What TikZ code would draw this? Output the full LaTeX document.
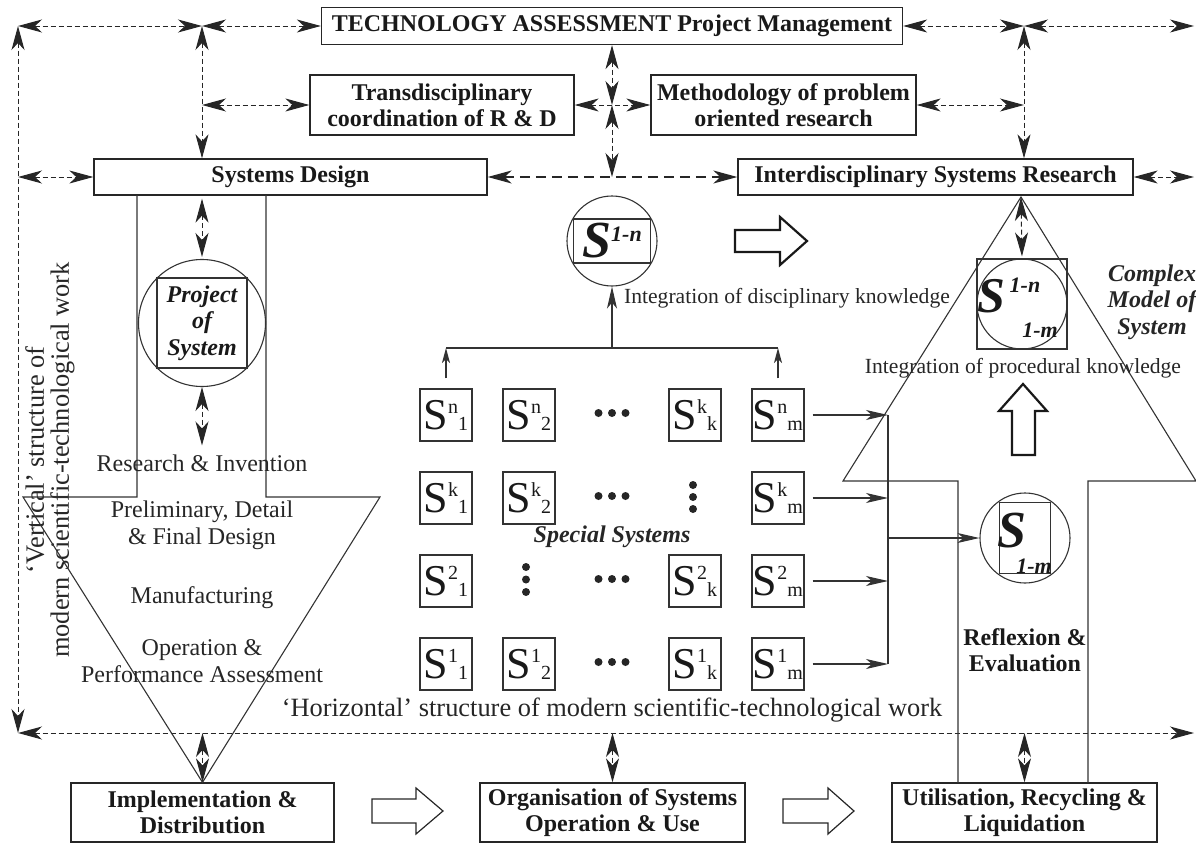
\documentclass[tikz,border=0pt]{standalone}
\usepackage{fontspec}
\setmainfont{Liberation Serif}
\usetikzlibrary{arrows.meta,calc}

\newcommand\boxfont{\fontsize{12}{12.8}\selectfont\bfseries}
\newcommand\bodyfont{\fontsize{12}{13.4}\selectfont}
\newcommand\intfont{\fontsize{10.8}{12}\selectfont}
\newcommand\longfont{\fontsize{13.2}{12.5}\selectfont}
\newcommand\bifont{\fontsize{12}{13.2}\selectfont\bfseries\itshape}
\newcommand\supfont{\fontsize{11}{11}\selectfont\bfseries\itshape}
\newcommand\Sij[2]{{\fontsize{22}{22}\selectfont S}\raisebox{8pt}{\fontsize{10}{10}\selectfont #1}\raisebox{-0.5pt}{\fontsize{10}{10}\selectfont #2}}

\tikzset{
  dtip/.tip={Stealth[length=12pt,width=6.5pt,inset=3.5pt]},
  stip/.tip={Stealth[length=11pt,width=5pt,inset=3pt]},
  ssmall/.tip={Stealth[length=7.5pt,width=4pt,inset=2pt]},
  ink/.style={draw=black!80, line width=0.55pt},
  bx/.style={draw=black!85, line width=0.65pt, inner sep=0pt, align=center, font=\boxfont, text=black!90},
  sbox/.style={draw=black!80, line width=0.6pt, inner sep=0pt, minimum size=26pt, text=black!90},
  darr/.style={draw=black!85, line width=0.5pt, dash pattern=on 2.5pt off 1.5pt, arrows={dtip-dtip}},
  heavy/.style={draw=black!85, line width=0.9pt, dash pattern=on 5pt off 3pt, arrows={dtip-dtip}},
  sarr/.style={draw=black!80, line width=0.55pt, arrows={-stip}},
  hollow/.style={draw=black!90, line width=1.1pt, line join=miter},
  thinhollow/.style={draw=black!85, line width=0.6pt, line join=miter},
}

\begin{document}
\begin{tikzpicture}[x=0.5pt, y=-0.5pt]
  \useasboundingbox (0,0) rectangle (1196,846);

  %%%%% boxes %%%%%
  \node[bx, minimum width=290.5pt, minimum height=18.5pt] (ta) at (612,26) {TECHNOLOGY ASSESSMENT Project Management};
  \node[bx, minimum width=132pt, minimum height=30pt] (trans) at (442,105) {Transdisciplinary\\coordination of R \& D};
  \node[bx, minimum width=132.5pt, minimum height=30pt] (meth) at (783.5,105) {Methodology of problem\\oriented research};
  \node[bx, minimum width=196.5pt, minimum height=18pt] (sd) at (290.5,177) {Systems Design};
  \node[bx, minimum width=197.5pt, minimum height=18pt] (isr) at (935.5,177) {Interdisciplinary Systems Research};
  \node[bx, minimum width=131.5pt, minimum height=29.5pt] (impl) at (202.5,812.5) {Implementation \&\\Distribution};
  \node[bx, minimum width=132.5pt, minimum height=29.5pt] (org) at (612.5,812.5) {Organisation of Systems\\Operation \& Use};
  \node[bx, minimum width=132.5pt, minimum height=29.5pt] (util) at (1024.5,812.5) {Utilisation, Recycling \&\\Liquidation};

  %%%%% dashed frame %%%%%
  \coordinate (tl) at (18,26);
  \coordinate (jl) at (202,26);
  \coordinate (jr) at (1024,26);
  \coordinate (tr) at (1194,26);
  \coordinate (ml) at (202,105);
  \coordinate (mc) at (612,105);
  \coordinate (mr) at (1024,105);
  \coordinate (sl) at (18,177);
  \coordinate (sc) at (612,177);
  \coordinate (sr) at (1194,177);
  \coordinate (bl) at (18,733);
  \coordinate (br) at (1194,733);

  \draw[darr] (tl) -- (jl);
  \draw[darr] (jl) -- (ta.west);
  \draw[darr] (ta.east) -- (jr);
  \draw[darr] (jr) -- (tr);
  \draw[darr] (jl) -- (jl |- sd.north);
  \draw[darr] (ml) -- (trans.west);
  \draw[darr] (trans.east) -- (meth.west);
  \draw[darr] (ta.south) -- (mc);
  \draw[darr] (mc) -- (sc);
  \draw[darr] (meth.east) -- (mr);
  \draw[darr] (jr) -- (jr |- isr.north);
  \draw[darr] (sl) -- (sd.west);
  \draw[darr] (isr.east) -- (sr);
  \draw[heavy] (sd.east) -- (isr.west);
  \draw[darr] (tl) -- (bl);
  \draw[darr] (bl) -- (br);
  \draw[darr] (bl -| impl.north) -- (impl.north);
  \draw[darr] (bl -| org.north) -- (org.north);
  \draw[darr] (bl -| util.north) -- (util.north);

  \node[rotate=90, align=center, font=\longfont, text=black!85] (vtext) at (50,460) {‘Vertical’ structure of\\modern scientific-technological work};

  %%%%% left funnel %%%%%
  \draw[ink] (137,195) -- (137,497) -- (23,497) -- (impl.north) -- (380,497) -- (266,497) -- (266,195);
  \node[circle, ink, minimum size=63.5pt, inner sep=0pt] (proj) at (202,323) {};
  \node[ink, minimum size=45pt, inner sep=0pt, align=center, font=\bifont, text=black!90] (projbox) at (202,323) {Project\\of\\System};
  \draw[darr, shorten <=1.5pt, shorten >=1pt] (proj.north |- sd.south) -- (proj.north);
  \node[font=\bodyfont, text=black!85] (research) at (202,463) {Research \& Invention};
  \draw[darr, shorten >=1pt] (proj.south) -- (research.north);
  \node[font=\bodyfont, align=center, text=black!85] (prelim) at (202,525) {Preliminary, Detail\\\& Final Design};
  \node[font=\bodyfont, text=black!85] (manuf) at (202,598) {Manufacturing};
  \node[font=\bodyfont, align=center, text=black!85] (oper) at (202,661.5) {Operation \&\\Performance Assessment};

  %%%%% special systems %%%%%
  \node[sbox] (sn1) at (446,415) {\Sij{n}{1}};
  \node[sbox] (sn2) at (529,415) {\Sij{n}{2}};
  \node[sbox] (skk) at (695,415) {\Sij{k}{k}};
  \node[sbox] (snm) at (778,415) {\Sij{n}{m}};
  \node[sbox] (sk1) at (446,498) {\Sij{k}{1}};
  \node[sbox] (sk2) at (529,498) {\Sij{k}{2}};
  \node[sbox] (skm) at (778,498) {\Sij{k}{m}};
  \node[sbox] (s21) at (446,581) {\Sij{2}{1}};
  \node[sbox] (s2k) at (695,581) {\Sij{2}{k}};
  \node[sbox] (s2m) at (778,581) {\Sij{2}{m}};
  \node[sbox] (s11) at (446,664) {\Sij{1}{1}};
  \node[sbox] (s12) at (529,664) {\Sij{1}{2}};
  \node[sbox] (s1k) at (695,664) {\Sij{1}{k}};
  \node[sbox] (s1m) at (778,664) {\Sij{1}{m}};

  \fill[black!85] (598.5,413) circle (2pt) (612,413) circle (2pt) (625.5,413) circle (2pt);
  \fill[black!85] (598.5,496) circle (2pt) (612,496) circle (2pt) (625.5,496) circle (2pt);
  \fill[black!85] (598.5,579) circle (2pt) (612,579) circle (2pt) (625.5,579) circle (2pt);
  \fill[black!85] (598.5,662) circle (2pt) (612,662) circle (2pt) (625.5,662) circle (2pt);
  \fill[black!85] (693,485) circle (2pt) (693,497) circle (2pt) (693,509) circle (2pt);
  \fill[black!85] (526,567) circle (2pt) (526,579.5) circle (2pt) (526,592) circle (2pt);

  \node[font=\bifont, text=black!85] (spec) at (612,537) {Special Systems};
  \node[font=\longfont, text=black!85] (htext) at (612,710) {‘Horizontal’ structure of modern scientific-technological work};

  % integration of disciplinary knowledge
  \node[circle, ink, minimum size=45pt, inner sep=0pt] (s1n) at (612,241) {};
  \node[ink, minimum width=38.5pt, minimum height=22pt, inner sep=0pt, text=black!90] (s1nbox) at (612,241) {{\fontsize{26}{26}\selectfont\bfseries\itshape S}\raisebox{8pt}{\supfont 1-n}};
  \coordinate (brk) at (612,348);
  \draw[ink] (sn1 |- brk) -- (snm |- brk);
  \draw[ink, arrows={-ssmall}] ([yshift=5pt]sn1.north) -- (sn1 |- brk);
  \draw[ink, arrows={-ssmall}] ([yshift=5pt]snm.north) -- (snm |- brk);
  \draw[sarr] (brk) -- (s1n.south);
  \node[font=\intfont, text=black!85] (intd) at (787,298) {Integration of disciplinary knowledge};
  \draw[hollow] (735,230) -- (780,230) -- (780,217) -- (807,241) -- (780,265) -- (780,252) -- (735,252) -- cycle;

  % feed to evaluation
  \coordinate (bus) at (888,538);
  \draw[sarr] ([xshift=4pt]snm.east) -- (snm.east -| bus);
  \draw[sarr] ([xshift=4pt]skm.east) -- (skm.east -| bus);
  \draw[sarr] ([xshift=4pt]s2m.east) -- (s2m.east -| bus);
  \draw[sarr] ([xshift=4pt]s1m.east) -- (s1m.east -| bus);
  \draw[ink] (snm.east -| bus) -- (s1m.east -| bus);

  %%%%% right arrow: complex model %%%%%
  \coordinate (apex) at (1021,197);
  \draw[ink] (958,783) -- (958,481) -- (843,481) -- (apex) -- (1196,481) -- (1088,481) -- (1088,783);
  \node[ink, minimum size=45pt, inner sep=0pt] (cmbox) at (1022,304) {};
  \node[circle, ink, minimum size=45pt, inner sep=0pt] (cmdisc) at (1022,304) {};
  \node[font={\fontsize{25}{25}\selectfont\bfseries\itshape}, inner sep=0pt, text=black!90] (cms) at (991,296) {S};
  \node[font=\supfont, inner sep=0pt, text=black!90] (cmsup) at (1025,285) {1-n};
  \node[font=\supfont, inner sep=0pt, text=black!90] (cmsub) at (1040,330) {1-m};
  \draw[darr, shorten >=1pt] (apex) -- (cmbox.north);
  \node[font=\bifont, align=center, text=black!85] (cmtext) at (1152,302) {Complex\\Model of\\System};
  \node[font=\intfont, text=black!85] (intp) at (1023,368) {Integration of procedural knowledge};
  \draw[hollow] (1012,455) -- (1012,411) -- (999,411) -- (1023,384) -- (1047,411) -- (1035,411) -- (1035,455) -- cycle;

  \node[circle, ink, minimum size=45pt, inner sep=0pt] (sres) at (1025,538) {};
  \node[ink, minimum width=25.5pt, minimum height=35.5pt, inner sep=0pt] (sresbox) at (1025,538) {};
  \node[font={\fontsize{26}{26}\selectfont\bfseries\itshape}, inner sep=0pt, text=black!90] (sress) at (1012,531) {S};
  \node[font=\supfont, inner sep=0pt, text=black!90] (sressub) at (1034,566) {1-m};
  \draw[sarr] (bus) -- (sres.west);
  \node[font=\boxfont, align=center, text=black!90] (refl) at (1025,650) {Reflexion \&\\Evaluation};

  %%%%% bottom flow %%%%%
  \draw[thinhollow] (372,799) -- (416,799) -- (416,788) -- (443,811) -- (416,834) -- (416,823) -- (372,823) -- cycle;
  \draw[thinhollow] (783,799) -- (828,799) -- (828,788) -- (854,811) -- (828,834) -- (828,823) -- (783,823) -- cycle;
\end{tikzpicture}
\end{document}
